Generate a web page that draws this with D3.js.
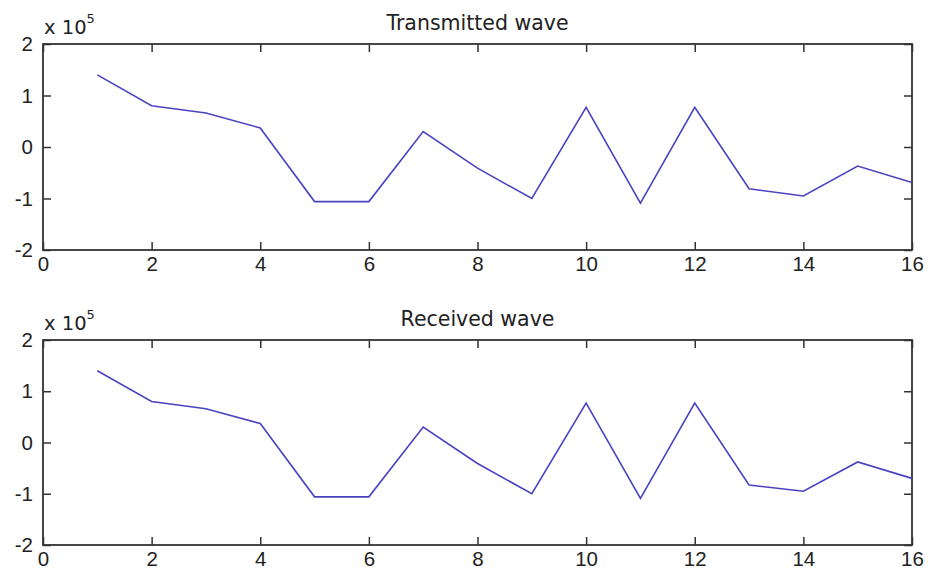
<!DOCTYPE html>
<html>
<head>
<meta charset="utf-8">
<script src="https://cdn.jsdelivr.net/npm/d3@7"></script>
<style>
  body { margin: 0; background: #fff; }
  svg { display: block; font-family: "DejaVu Sans", Verdana, sans-serif; }
</style>
</head>
<body>
<div id="chart"></div>
<script>
var samples = [1, 2, 3, 4, 5, 6, 7, 8, 9, 10, 11, 12, 13, 14, 15, 16];
// values in units of 1e5
var transmitted = [1.40, 0.80, 0.66, 0.37, -1.06, -1.06, 0.30, -0.41, -1.00, 0.77, -1.09, 0.77, -0.81, -0.95, -0.37, -0.69];
var received = [1.40, 0.80, 0.66, 0.37, -1.06, -1.06, 0.30, -0.41, -1.00, 0.77, -1.09, 0.77, -0.83, -0.95, -0.38, -0.70];
var titles = ["Transmitted wave", "Received wave"];
var xTicks = [0, 2, 4, 6, 8, 10, 12, 14, 16];
var yTicks = [-2, -1, 0, 1, 2];

var width = 928, height = 574;
var svg = d3.select("#chart").append("svg")
    .attr("width", width)
    .attr("height", height);

var panels = [
    { top: 44, bottom: 250, values: transmitted, title: titles[0] },
    { top: 340, bottom: 545, values: received, title: titles[1] }
];

var x = d3.scaleLinear().domain([0, 16]).range([43, 912]);
var axisColor = "#333";

panels.forEach(p => {
    var y = d3.scaleLinear().domain([-2, 2]).range([p.bottom, p.top]);
    var g = svg.append("g");

    // box ticks (inward), all four sides
    g.append("g")
        .attr("transform", `translate(0,${p.bottom})`)
        .call(d3.axisBottom(x).tickValues(xTicks).tickSize(-8).tickPadding(6).tickFormat(d => String(d)))
        .call(a => a.select(".domain").remove())
        .call(a => a.selectAll("text").attr("font-size", 20.5).attr("fill", "#222").attr("dy", "0.75em"));
    g.append("g")
        .attr("transform", `translate(0,${p.top})`)
        .call(d3.axisTop(x).tickValues(xTicks).tickSize(-8).tickFormat(""))
        .call(a => a.select(".domain").remove());
    g.append("g")
        .attr("transform", `translate(${x(0)},0)`)
        .call(d3.axisLeft(y).tickValues(yTicks).tickSize(-8).tickPadding(10).tickFormat(d => String(d)))
        .call(a => a.select(".domain").remove())
        .call(a => a.selectAll("text").attr("font-size", 20.5).attr("fill", "#222"));
    g.append("g")
        .attr("transform", `translate(${x(16)},0)`)
        .call(d3.axisRight(y).tickValues(yTicks).tickSize(-8).tickFormat(""))
        .call(a => a.select(".domain").remove());

    g.selectAll(".tick line").attr("stroke", axisColor).attr("stroke-width", 1.5);

    g.append("rect")
        .attr("x", x(0)).attr("y", p.top)
        .attr("width", x(16) - x(0)).attr("height", p.bottom - p.top)
        .attr("fill", "none")
        .attr("stroke", axisColor)
        .attr("stroke-width", 1.8);

    var line = d3.line()
        .x((d, i) => x(samples[i]))
        .y(d => y(d));

    g.append("path")
        .datum(p.values)
        .attr("d", line)
        .attr("fill", "none")
        .attr("stroke", "#4a43c0")
        .attr("stroke-width", 1.6);

    g.append("text")
        .attr("x", (x(0) + x(16)) / 2)
        .attr("y", p.top - 14)
        .attr("text-anchor", "middle")
        .attr("font-size", 20.5)
        .attr("fill", "#222")
        .text(p.title);

    var exp = g.append("text")
        .attr("x", x(0) + 1)
        .attr("y", p.top - 10)
        .attr("font-size", 19.5)
        .attr("fill", "#222");
    exp.append("tspan").text("x 10");
    exp.append("tspan").attr("font-size", 13).attr("dy", -11).text("5");
});
</script>
</body>
</html>
